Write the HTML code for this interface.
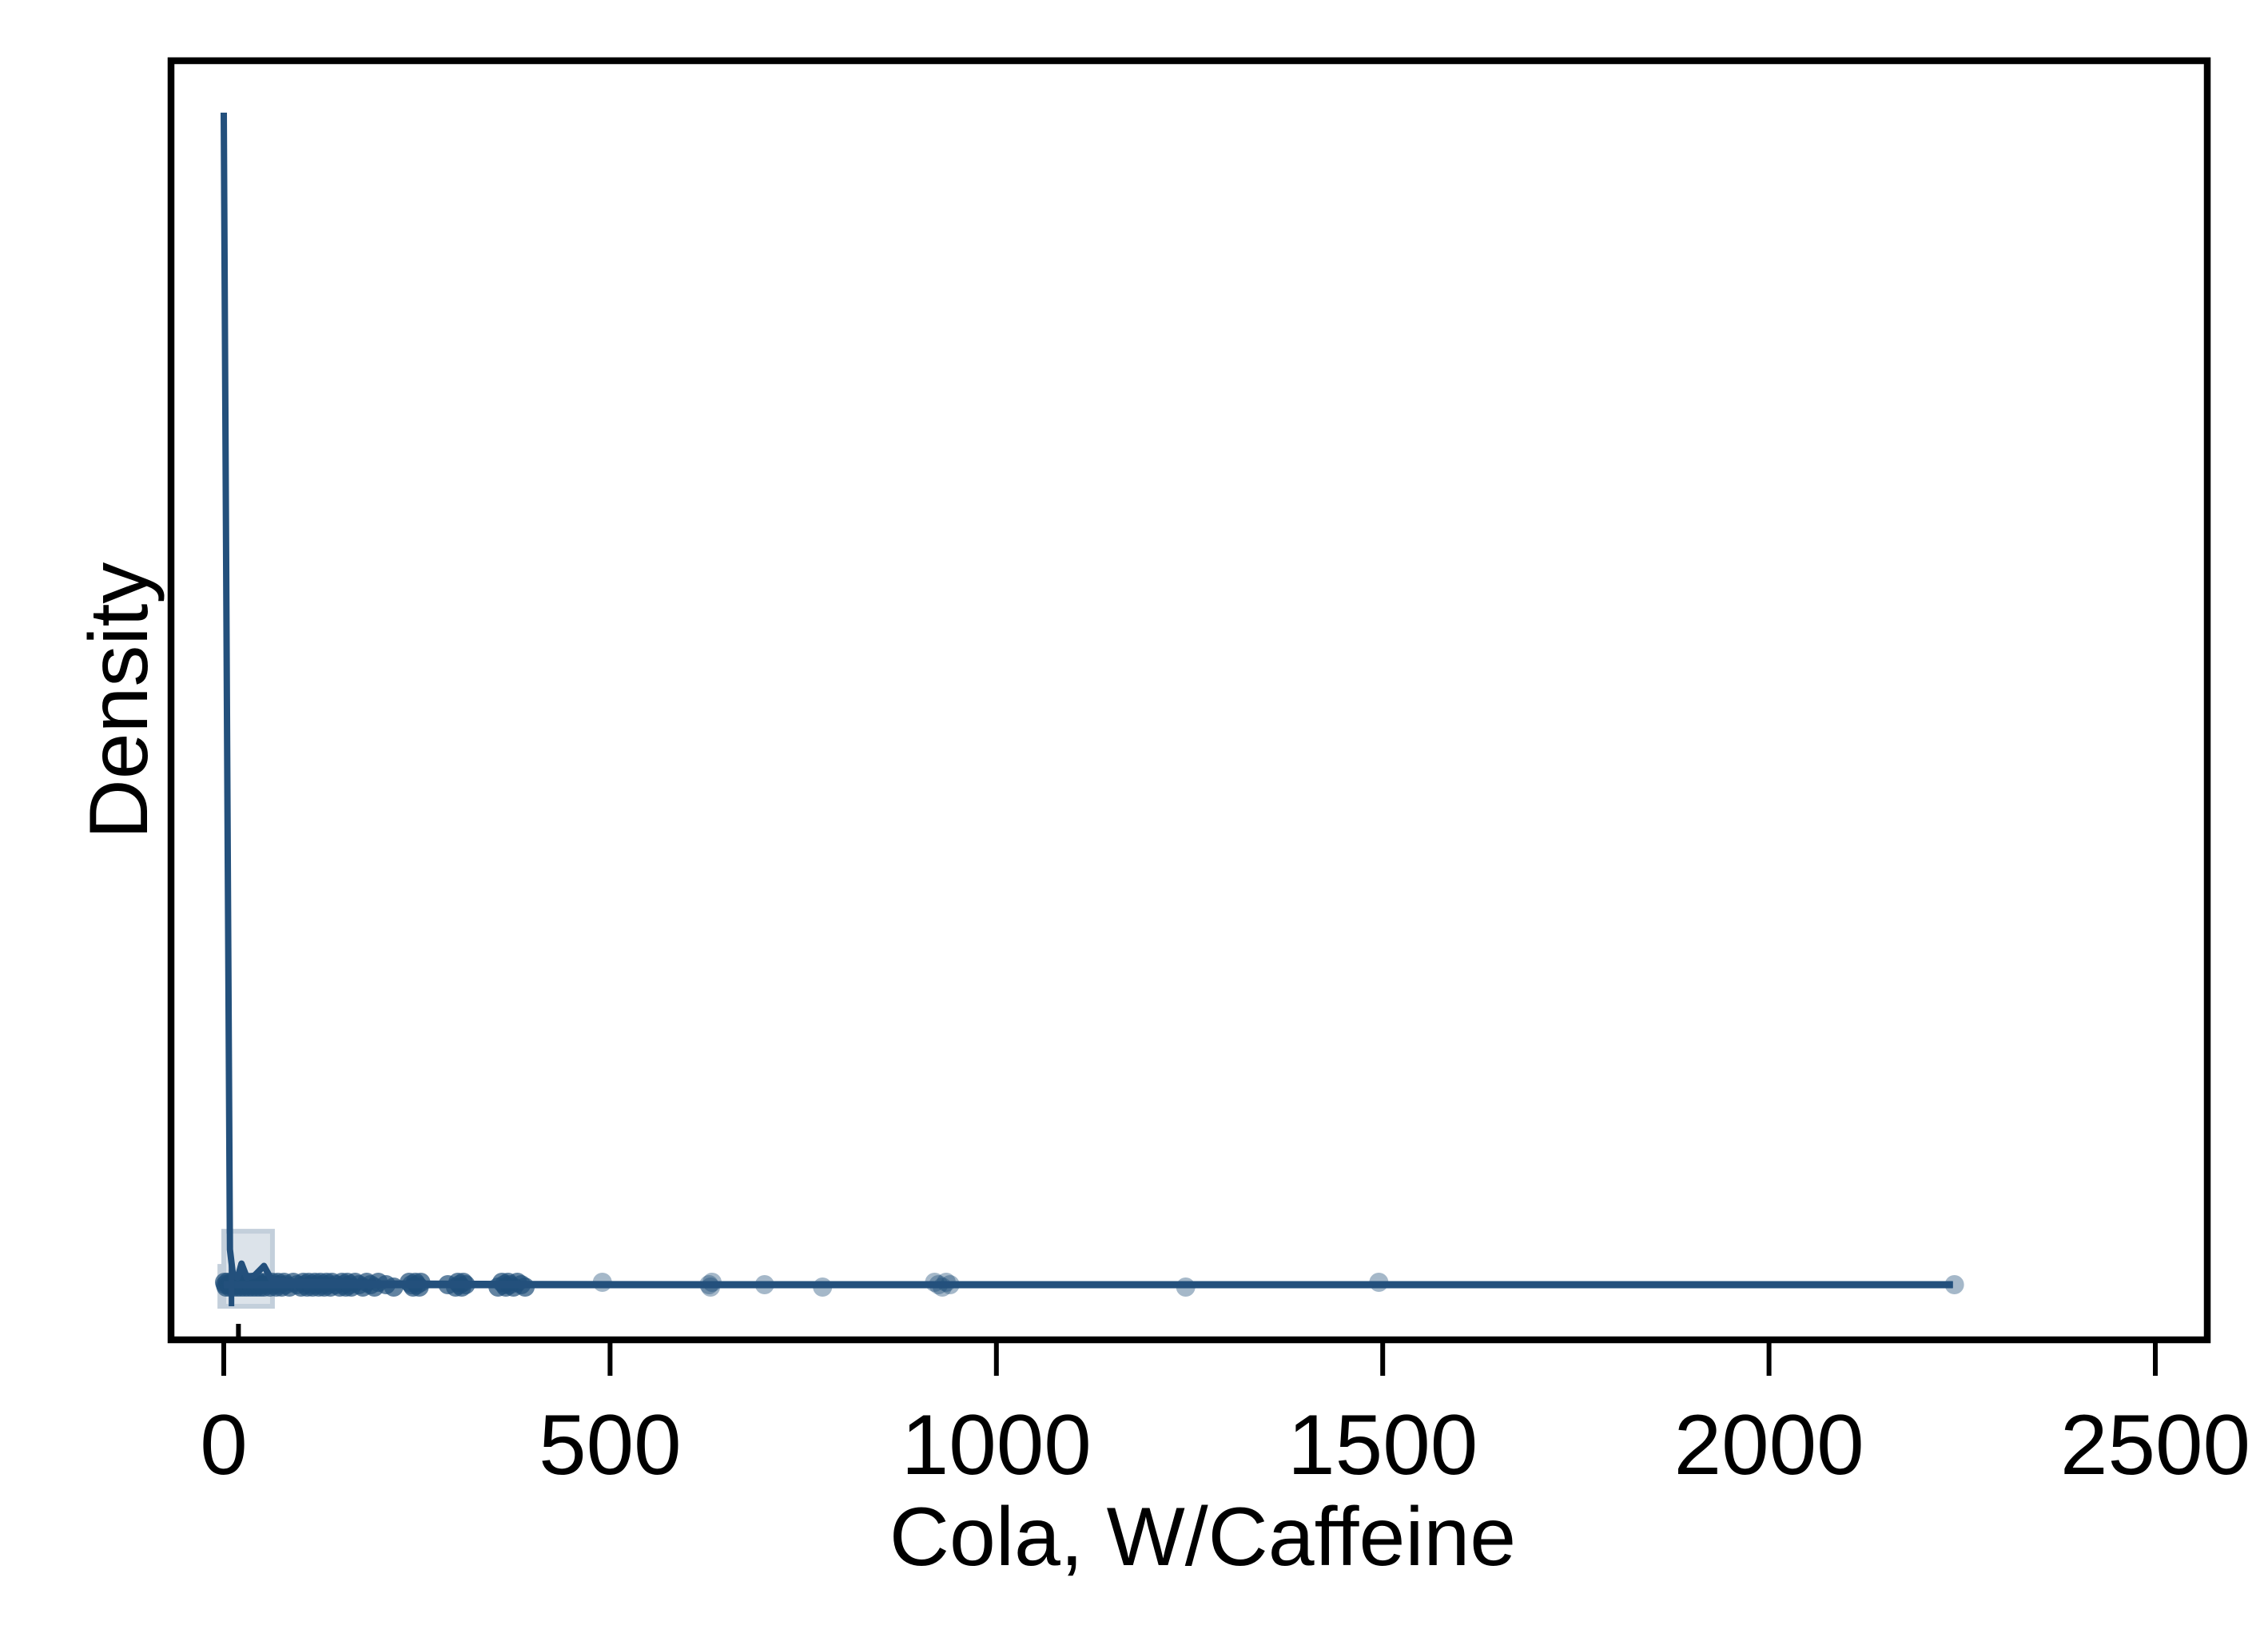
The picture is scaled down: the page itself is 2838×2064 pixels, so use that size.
<!DOCTYPE html>
<html><head><meta charset="utf-8"><style>html,body{margin:0;padding:0;background:#fff}svg{display:block}</style></head>
<body>
<svg id="chart" width="2838" height="2064" viewBox="0 0 2838 2064" xmlns="http://www.w3.org/2000/svg" font-family="Liberation Sans, Arial, sans-serif">
<rect x="0" y="0" width="2838" height="2064" fill="#fff"/>
<g id="hist"></g>
<g id="dots"></g>
<g id="curve"></g>
<rect x="214" y="76" width="2548" height="1601" fill="none" stroke="#000" stroke-width="8.5"/>
<g id="xaxis"></g>
<text x="1505" y="1959" font-size="104" text-anchor="middle">Cola, W/Caffeine</text>
<text transform="translate(184,877) rotate(-90)" font-size="104" text-anchor="middle">Density</text>
</svg>
<script>
const xTicks = [0, 500, 1000, 1500, 2000, 2500];
const xTickLabels = ["0", "500", "1000", "1500", "2000", "2500"];
const curveX = [0, 4, 8, 12, 18, 23, 30, 40, 52, 62, 80, 120, 200, 400, 1000, 2238];
const curveD = [1.0, 0.5, 0.03, 0.008, 0.006, 0.018, 0.006, 0.008, 0.016, 0.004, 0.003, 0.002, 0.001, 0.0005, 0.0002, 0];
const histStart = [-5, 0];
const histEnd = [24, 63];
const histD = [0.034, 0.064];
const dotValues = [1,2,3,5,6,8,10,11,12,14,15,17,18,20,22,24,25,27,28,30,32,33,35,37,38,40,42,44,45,47,48,50,52,55,58,60,63,65,68,70,72,75,78,80,85,90,95,100,103,105,108,110,113,115,118,120,123,125,128,130,133,135,138,140,145,150,153,155,158,160,163,165,170,175,180,185,190,195,200,210,220,240,243,245,248,250,253,255,290,300,303,305,308,310,313,355,360,363,365,368,370,375,380,385,390,490,628,630,632,700,775,920,925,930,935,940,1245,1495,2240];
const SVGNS = "http://www.w3.org/2000/svg";
const X0 = 280, KX = 0.9668;
const Y0 = 1608, KY = 1467;
const HIST0 = 1635;
function sx(v){ return X0 + v * KX; }
function sy(d){ return Y0 - d * KY; }
function hy(d){ return HIST0 - d * KY; }
function mk(tag){ return document.createElementNS(SVGNS, tag); }

const hist = document.getElementById('hist');
for (let i = 0; i < histD.length; i++) {
  const r = mk('rect');
  
  
  r.setAttribute('x', sx(histStart[i]));
  r.setAttribute('y', hy(histD[i]));
  r.setAttribute('width', sx(histEnd[i]) - sx(histStart[i]));
  r.setAttribute('height', HIST0 - hy(histD[i]));
  r.setAttribute('fill', '#dce3ea');
  r.setAttribute('stroke', '#c3cfdb');
  r.setAttribute('stroke-width', '6');
  hist.appendChild(r);
}

const dots = document.getElementById('dots');
for (let i = 0; i < dotValues.length; i++) {
  const c = mk('circle');
  
  
  c.setAttribute('cx', sx(dotValues[i]));
  c.setAttribute('cy', Y0 + ((i % 3) - 1) * 3);
  c.setAttribute('r', '12');
  c.setAttribute('fill', '#1f4e79');
  c.setAttribute('fill-opacity', dotValues[i] < 400 ? '0.7' : '0.4');
  dots.appendChild(c);
}

const curve = document.getElementById('curve');
let d = '';
for (let i = 0; i < curveX.length; i++) {
  d += (i ? 'L' : 'M') + sx(curveX[i]).toFixed(1) + ',' + sy(curveD[i]).toFixed(1);
}
const p = mk('path');


p.setAttribute('d', d);
p.setAttribute('fill', 'none');
p.setAttribute('stroke', '#23507c');
p.setAttribute('stroke-width', '8');
p.setAttribute('stroke-linejoin', 'round');
curve.appendChild(p);
const base = mk('line');


base.setAttribute('x1', sx(curveX[0]));
base.setAttribute('x2', sx(curveX[curveX.length - 1]));
base.setAttribute('y1', Y0);
base.setAttribute('y2', Y0);
base.setAttribute('stroke', '#23507c');
base.setAttribute('stroke-width', '9');
curve.appendChild(base);
const rug = mk('line');


rug.setAttribute('x1', sx(10)); rug.setAttribute('x2', sx(10));
rug.setAttribute('y1', sy(0.02)); rug.setAttribute('y2', HIST0);
rug.setAttribute('stroke', '#23507c');
rug.setAttribute('stroke-width', '7');
curve.appendChild(rug);

const xaxis = document.getElementById('xaxis');
for (let i = 0; i < xTicks.length; i++) {
  const t = mk('line');
  
  
  t.setAttribute('x1', sx(xTicks[i])); t.setAttribute('x2', sx(xTicks[i]));
  t.setAttribute('y1', 1680); t.setAttribute('y2', 1722);
  t.setAttribute('stroke', '#000'); t.setAttribute('stroke-width', '6');
  xaxis.appendChild(t);
  const l = mk('text');
  
  
  l.setAttribute('x', sx(xTicks[i])); l.setAttribute('y', 1845);
  l.setAttribute('font-size', '107'); l.setAttribute('text-anchor', 'middle');
  l.textContent = xTickLabels[i];
  xaxis.appendChild(l);
}
const mt = mk('line');


mt.setAttribute('x1', sx(19)); mt.setAttribute('x2', sx(19));
mt.setAttribute('y1', 1657); mt.setAttribute('y2', 1676);
mt.setAttribute('stroke', '#000'); mt.setAttribute('stroke-width', '6');
xaxis.appendChild(mt);
</script>
</body></html>
